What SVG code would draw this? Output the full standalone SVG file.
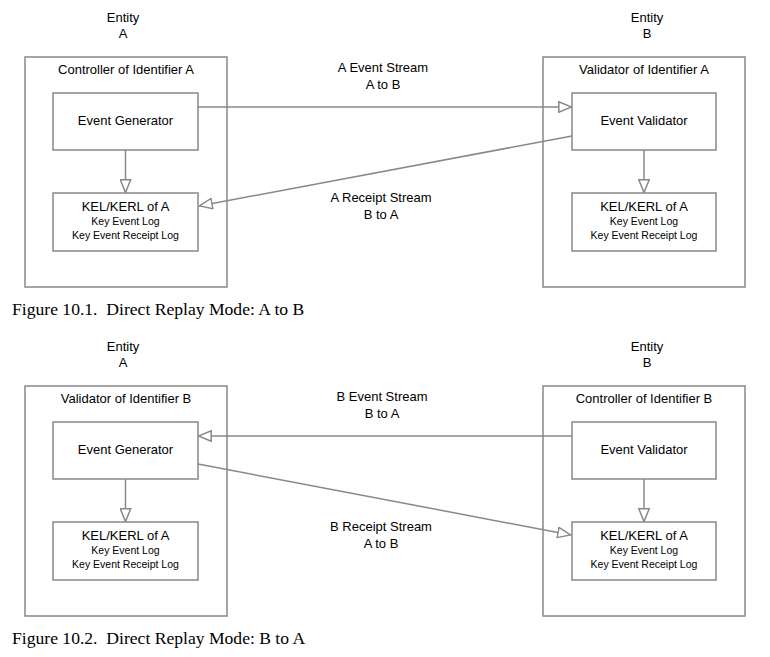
<svg xmlns="http://www.w3.org/2000/svg" width="770" height="657" viewBox="0 0 770 657">
<defs>
<style>
.box{fill:#fff;stroke:#888;stroke-width:1.5}
.ln{fill:none;stroke:#888;stroke-width:1.5;marker-end:url(#tri)}
.t{font-family:"Liberation Sans",Arial,sans-serif;font-size:13px;fill:#000;text-anchor:middle}
.s{font-family:"Liberation Sans",Arial,sans-serif;font-size:10.5px;fill:#000;text-anchor:middle}
.cap{font-family:"Liberation Serif","Times New Roman",serif;font-size:17.6px;fill:#000}
</style>
<marker id="tri" viewBox="0 0 14 12" refX="14" refY="6" markerWidth="14" markerHeight="12" markerUnits="userSpaceOnUse" orient="auto">
<path d="M0.8,0.8 L13.5,6 L0.8,11.2 Z" fill="#fff" stroke="#888" stroke-width="1.5"/>
</marker>
</defs>
<rect width="770" height="657" fill="#fff"/>

<!-- Figure 10.1 -->
<g id="entityA1"><text class="t" x="123" y="22">Entity</text><text class="t" x="123" y="38">A</text></g>
<g id="entityB1"><text class="t" x="647" y="22">Entity</text><text class="t" x="647" y="38">B</text></g>
<g id="ctrlA"><rect class="box" x="25" y="57" width="202" height="230"/><text class="t" x="126" y="74">Controller of Identifier A</text></g>
<g id="valA"><rect class="box" x="543" y="57" width="202" height="230"/><text class="t" x="644" y="74">Validator of Identifier A</text></g>
<g id="gen1"><rect class="box" x="53" y="93" width="145" height="57"/><text class="t" x="125.5" y="125">Event Generator</text></g>
<g id="kelA1"><rect class="box" x="53" y="193" width="145" height="58"/><text class="t" x="125.5" y="211">KEL/KERL of A</text><text class="s" x="125.5" y="225">Key Event Log</text><text class="s" x="125.5" y="239">Key Event Receipt Log</text></g>
<g id="val1"><rect class="box" x="572" y="93" width="144" height="57"/><text class="t" x="644" y="125">Event Validator</text></g>
<g id="kelB1"><rect class="box" x="572" y="193" width="144" height="58"/><text class="t" x="644" y="211">KEL/KERL of A</text><text class="s" x="644" y="225">Key Event Log</text><text class="s" x="644" y="239">Key Event Receipt Log</text></g>
<g id="connectors1">
<line class="ln" x1="125.5" y1="150" x2="125.5" y2="193"/>
<line class="ln" x1="644" y1="150" x2="644" y2="193"/>
<line class="ln" x1="198" y1="107" x2="572" y2="107"/>
<line class="ln" x1="572" y1="136" x2="199" y2="206"/>
</g>
<g id="labels1">
<text class="t" x="383" y="72">A Event Stream</text><text class="t" x="383" y="89">A to B</text>
<text class="t" x="381" y="202">A Receipt Stream</text><text class="t" x="381" y="219">B to A</text>
</g>
<text class="cap" x="12" y="315" xml:space="preserve">Figure 10.1.  Direct Replay Mode: A to B</text>

<!-- Figure 10.2 -->
<g id="entityA2"><text class="t" x="123" y="351">Entity</text><text class="t" x="123" y="367">A</text></g>
<g id="entityB2"><text class="t" x="647" y="351">Entity</text><text class="t" x="647" y="367">B</text></g>
<g id="valB"><rect class="box" x="25" y="386" width="202" height="230"/><text class="t" x="126" y="403">Validator of Identifier B</text></g>
<g id="ctrlB"><rect class="box" x="543" y="386" width="202" height="230"/><text class="t" x="644" y="403">Controller of Identifier B</text></g>
<g id="gen2"><rect class="box" x="53" y="422" width="145" height="57"/><text class="t" x="125.5" y="454">Event Generator</text></g>
<g id="kelA2"><rect class="box" x="53" y="522" width="145" height="58"/><text class="t" x="125.5" y="540">KEL/KERL of A</text><text class="s" x="125.5" y="554">Key Event Log</text><text class="s" x="125.5" y="568">Key Event Receipt Log</text></g>
<g id="val2"><rect class="box" x="572" y="422" width="144" height="57"/><text class="t" x="644" y="454">Event Validator</text></g>
<g id="kelB2"><rect class="box" x="572" y="522" width="144" height="58"/><text class="t" x="644" y="540">KEL/KERL of A</text><text class="s" x="644" y="554">Key Event Log</text><text class="s" x="644" y="568">Key Event Receipt Log</text></g>
<g id="connectors2">
<line class="ln" x1="125.5" y1="479" x2="125.5" y2="522"/>
<line class="ln" x1="644" y1="479" x2="644" y2="522"/>
<line class="ln" x1="572" y1="436" x2="198" y2="436"/>
<line class="ln" x1="198" y1="464" x2="571" y2="535"/>
</g>
<g id="labels2">
<text class="t" x="382" y="401">B Event Stream</text><text class="t" x="382" y="418">B to A</text>
<text class="t" x="381" y="531">B Receipt Stream</text><text class="t" x="381" y="548">A to B</text>
</g>
<text class="cap" x="12" y="644" xml:space="preserve">Figure 10.2.  Direct Replay Mode: B to A</text>
</svg>
